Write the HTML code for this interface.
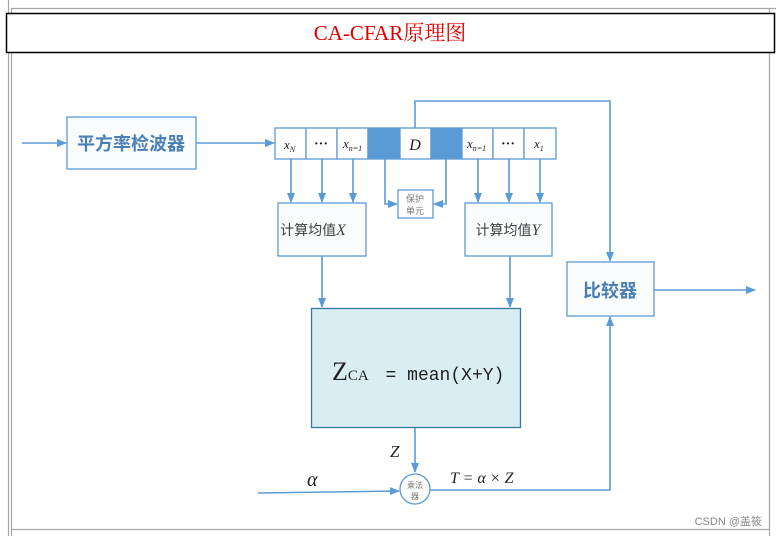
<!DOCTYPE html>
<html><head><meta charset="utf-8"><style>
body{margin:0;background:#fff;width:776px;height:536px;overflow:hidden;position:relative}
</style></head><body>
<svg width="776" height="536" viewBox="0 0 776 536" xmlns="http://www.w3.org/2000/svg" style="position:absolute;left:0;top:0">
<defs><marker id="a" markerWidth="10" markerHeight="10" refX="9" refY="5" orient="auto" markerUnits="userSpaceOnUse"><path d="M0,1 L10,5 L0,9 z" fill="#5b9bd5"/></marker></defs>
<g fill="none" stroke="#a6a6a6" stroke-width="1.2">
<line x1="8.5" y1="0" x2="8.5" y2="536"/>
<polyline points="11.5,536 11.5,8.5 776,8.5"/>
<polyline points="11.5,529.5 769.5,529.5 769.5,8"/>
<line x1="769.5" y1="529" x2="769.5" y2="536"/>
</g>
<rect x="6.5" y="13.5" width="768" height="39" fill="#fff" stroke="#000" stroke-width="1.5"/>
<text x="390" y="40" text-anchor="middle" font-family="Liberation Serif, Noto Serif CJK SC, serif" font-size="21" fill="#e00000">CA-CFAR原理图</text>
<g stroke="#5b9bd5" stroke-width="1.6" fill="none">
<line x1="22" y1="143" x2="66" y2="143" marker-end="url(#a)"/>
<line x1="196" y1="143" x2="274" y2="143" marker-end="url(#a)"/>
<polyline points="415,128 415,101 610,101 610,261" marker-end="url(#a)"/>
<line x1="654" y1="290" x2="755" y2="290" marker-end="url(#a)"/>
<line x1="291" y1="159" x2="291" y2="202" marker-end="url(#a)"/>
<line x1="322" y1="159" x2="322" y2="202" marker-end="url(#a)"/>
<line x1="353" y1="159" x2="353" y2="202" marker-end="url(#a)"/>
<line x1="478" y1="159" x2="478" y2="202" marker-end="url(#a)"/>
<line x1="509" y1="159" x2="509" y2="202" marker-end="url(#a)"/>
<line x1="540" y1="159" x2="540" y2="202" marker-end="url(#a)"/>
<polyline points="385,159 385,204 397,204" marker-end="url(#a)"/>
<polyline points="446,159 446,204 434,204" marker-end="url(#a)"/>
<line x1="322" y1="256" x2="322" y2="307" marker-end="url(#a)"/>
<line x1="510" y1="256" x2="510" y2="307" marker-end="url(#a)"/>
<line x1="415" y1="427" x2="415" y2="472" marker-end="url(#a)"/>
<line x1="258" y1="493" x2="399" y2="491" marker-end="url(#a)"/>
<polyline points="430,490 610,490 610,317" marker-end="url(#a)"/>
</g>
<g stroke="#5b9bd5" stroke-width="1.3" fill="#fafcfe">
<rect x="67" y="117" width="129" height="52"/>
<rect x="278" y="203" width="88" height="53"/>
<rect x="465" y="203" width="87" height="53"/>
<rect x="567" y="262" width="87" height="54"/>
<rect x="398" y="190" width="35" height="28" fill="#fff"/>
<rect x="275" y="128" width="31" height="31" fill="#fff"/>
<rect x="306" y="128" width="31" height="31" fill="#fff"/>
<rect x="337" y="128" width="31" height="31" fill="#fff"/>
<rect x="368" y="128" width="32" height="31" fill="#5b9bd5"/>
<rect x="400" y="128" width="31" height="31" fill="#fff"/>
<rect x="431" y="128" width="31" height="31" fill="#5b9bd5"/>
<rect x="462" y="128" width="31" height="31" fill="#fff"/>
<rect x="493" y="128" width="31" height="31" fill="#fff"/>
<rect x="524" y="128" width="32" height="31" fill="#fff"/>
<circle cx="415" cy="489" r="15" fill="#fff"/>
</g>
<rect x="311.5" y="308.5" width="209" height="119" fill="#daedf3" stroke="#2f7d98" stroke-width="1.3"/>
<g font-family="Liberation Sans, Noto Sans CJK SC, sans-serif" fill="#404040">
<text x="131" y="150" text-anchor="middle" font-size="18" font-weight="bold" fill="#4a7fb5">平方率检波器</text>
<text x="610" y="297" text-anchor="middle" font-size="18" font-weight="bold" fill="#4a7fb5">比较器</text>
<text x="313" y="235" text-anchor="middle" font-size="14">计算均值<tspan font-family="Liberation Serif,serif" font-style="italic" font-size="16">X</tspan></text>
<text x="508" y="235" text-anchor="middle" font-size="14">计算均值<tspan font-family="Liberation Serif,serif" font-style="italic" font-size="16">Y</tspan></text>
<text x="415" y="202" text-anchor="middle" font-size="9" fill="#777">保护</text>
<text x="415" y="214" text-anchor="middle" font-size="9" fill="#777">单元</text>
<text x="415" y="488" text-anchor="middle" font-size="8" fill="#777">乘法</text>
<text x="415" y="499" text-anchor="middle" font-size="8" fill="#777">器</text>
<text x="762" y="525" text-anchor="end" font-size="11" fill="#888">CSDN @盖筱</text>
</g>
<g font-family="Liberation Serif, serif" font-style="italic" fill="#222">
<text x="284" y="149" font-size="13">x<tspan font-size="8" dy="3">N</tspan></text>
<text x="321" y="148" font-size="14" text-anchor="middle" font-style="normal" font-weight="bold">···</text>
<text x="343" y="148" font-size="13">x<tspan font-size="8" dy="3">n=1</tspan></text>
<text x="415" y="150" font-size="16" text-anchor="middle">D</text>
<text x="467" y="148" font-size="13">x<tspan font-size="8" dy="3">n=1</tspan></text>
<text x="508" y="148" font-size="14" text-anchor="middle" font-style="normal" font-weight="bold">···</text>
<text x="534" y="148" font-size="13">x<tspan font-size="8" dy="3">1</tspan></text>
<text x="390" y="457" font-size="17">Z</text>
<text x="307" y="486" font-size="20">α</text>
<text x="450" y="483" font-size="16">T = α × Z</text>
</g>
<text x="332" y="380" font-family="Liberation Serif, serif" font-size="26" fill="#222">Z<tspan font-size="15">CA</tspan><tspan font-family="Liberation Mono, monospace" font-size="18" dx="6"> = mean(X+Y)</tspan></text>
</svg>
</body></html>
